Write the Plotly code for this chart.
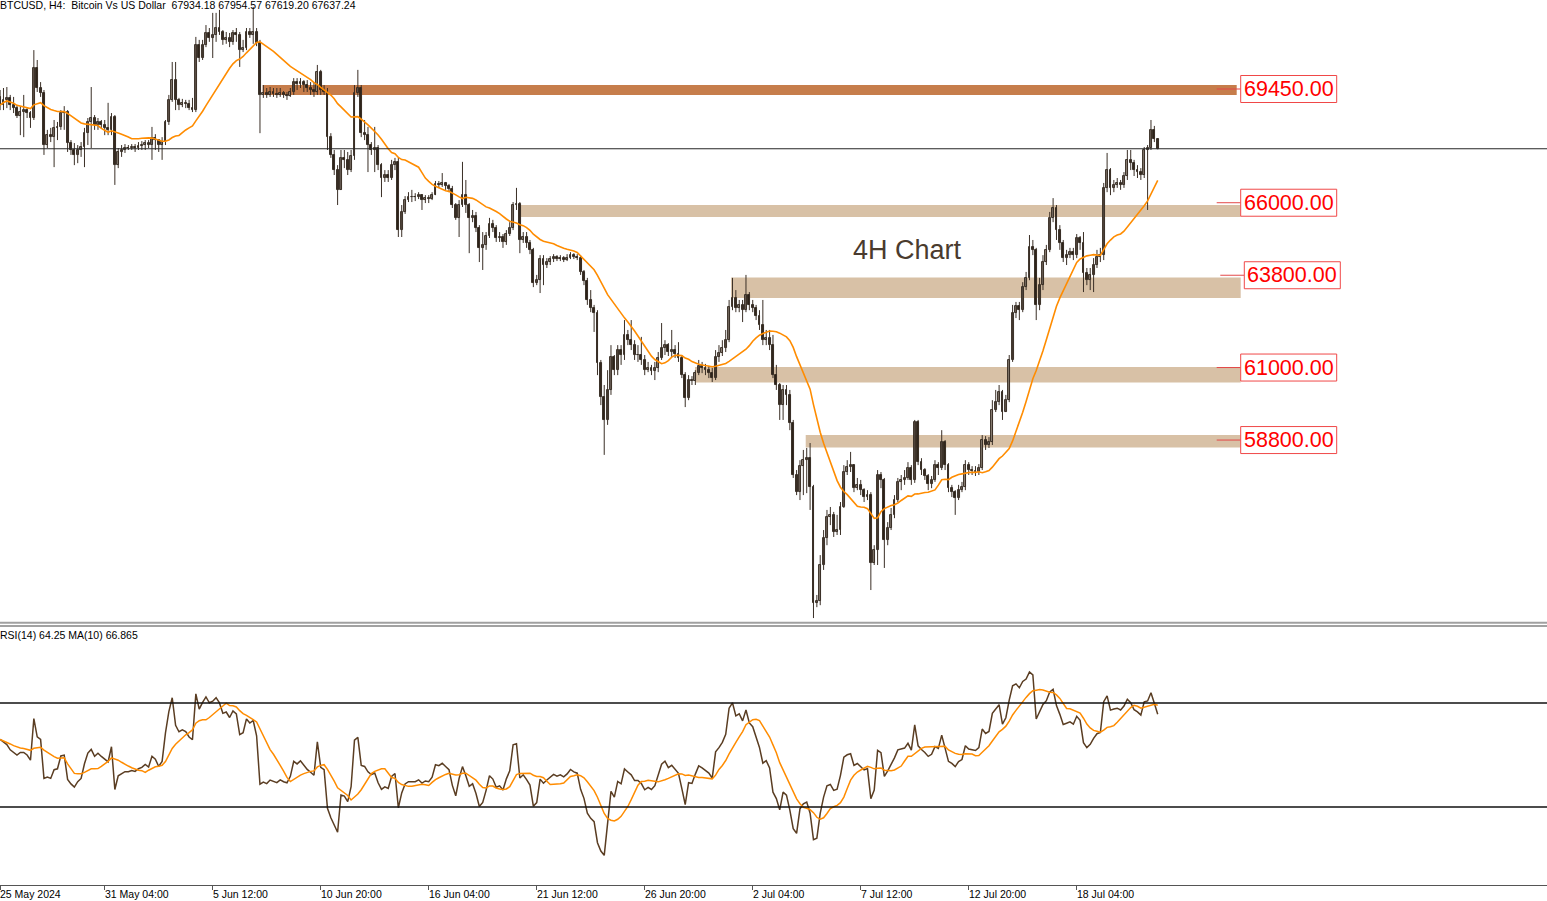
import numpy as np
import pandas as pd
import plotly.graph_objects as go

# ---------------- data (BTCUSD H4) ----------------
first_open = 69210
last_open = 67934.18

close = [
68960,69120,69180,68960,68870,68630,68750,68810,68720,68570,
70090,69480,69330,67750,68050,67990,68270,68300,68720,68750,
67810,67600,67450,67600,67690,68110,68450,68570,68360,68450,
68360,68270,68210,68600,67140,67540,67600,67660,67660,67690,
67660,67720,67750,67810,67750,67960,67900,67750,67840,68450,
69120,69720,69120,68960,69030,68990,68870,68810,70790,70390,
70790,71150,71000,71090,71300,71180,70940,71000,70880,71150,
71090,70630,70690,71180,71090,71180,70850,69270,69330,69270,
69360,69300,69270,69330,69270,69240,69360,69660,69600,69660,
69570,69480,69420,69360,69970,69420,69360,67990,67450,66990,
66390,67360,67300,66990,67420,69330,69480,68110,68050,67750,
67600,67660,67140,66750,66840,66750,67140,67240,65170,65720,
66080,66170,66170,66170,66230,66080,66140,66110,66230,66570,
66540,66600,66510,66420,65930,65540,65930,66230,65930,65540,
65600,65230,64630,64720,64990,65350,65230,64930,64960,64810,
65050,65230,65930,65960,64870,64960,64780,64570,63560,63650,
64290,64110,64200,64290,64350,64290,64320,64260,64320,64410,
64350,64320,63900,63620,63050,62810,62650,61140,60110,59410,
60320,61320,60920,61530,61380,61990,61830,61680,61380,61380,
61230,60920,60990,60890,60990,61290,61590,61680,61470,61530,
61410,61290,60770,60080,60620,60590,60830,61050,60990,60920,
60830,60680,61320,61440,61590,61830,62840,63110,62810,62900,
62740,63200,62900,62810,62560,62290,61830,61900,61680,60770,
60470,59860,60320,60170,59320,57740,57220,58010,58190,58250,
57370,53860,53920,55010,55830,56460,56530,56010,56070,56770,
57830,57980,58040,57340,57440,57280,57070,57130,55070,55460,
57740,57590,55770,56130,56530,56980,57530,57590,57650,57950,
57590,59350,58130,57890,57710,57470,57590,58040,57950,58740,
58040,57340,57220,57040,57280,57370,58040,57890,57860,57830,
57950,58800,58650,58740,59710,59950,60260,59650,60010,61230,
62650,62870,62740,63440,63720,64660,64570,62900,63500,64200,
64570,65540,65840,65170,64780,64320,64410,64500,64410,64930,
64780,63870,63650,63810,64110,64350,64410,66450,66990,66450,
66540,66600,66540,66810,67300,67200,66990,66930,66840,67600,
67660,68210,67934.18,67637.24,
]

high = [
69420,69480,69510,69270,69210,68960,68930,69270,68870,68780,
70630,70330,69660,69420,68210,68270,68510,68450,68810,68930,
68810,67900,67810,67750,67840,68270,68570,69510,68660,68570,
68510,68510,69030,68720,68660,67660,67750,67780,67750,67780,
67780,67840,67870,67900,67900,68300,68080,67930,67990,68510,
69270,70270,70270,69180,69150,69120,69120,69180,71030,70940,
70940,71390,71300,71760,71760,71850,71240,71180,71150,71240,
71300,71180,70940,71300,71300,71940,71300,70940,69570,69480,
69510,69480,69480,69480,69390,69360,69480,69780,69780,69780,
69720,69720,69660,69660,70180,70030,69570,69480,68110,67600,
67140,67600,67600,67540,67600,69570,70030,69570,68510,68300,
67840,68300,67750,67200,66990,66990,67300,67360,67360,65930,
66200,66320,66390,66290,66320,66260,66230,66230,66320,66660,
66660,66900,66630,66570,66510,65990,66080,67240,66690,65990,
65780,65720,65320,65110,65110,65540,65480,65320,65110,65050,
65170,65410,66020,66450,66020,65110,65110,64870,64630,63810,
64410,64410,64320,64380,64440,64410,64410,64380,64440,64500,
64470,64440,64410,63960,63720,63350,62900,62740,61230,60470,
60920,61680,61380,61680,61680,62440,62140,62440,61830,61680,
61930,61380,61170,61080,61170,61470,62350,61830,61740,62140,
61680,61770,61380,60860,60770,60740,60920,61230,61170,61110,
61050,60990,61530,61680,61830,62140,63050,63720,63350,63050,
63050,63810,63290,63050,62900,62740,63050,62140,62140,61990,
61080,60530,60470,60470,60320,59410,57890,58190,58500,58560,
58710,57440,54100,55310,56070,56680,56770,56620,56530,56920,
58040,58190,58440,58040,57650,57590,57340,57280,57220,55610,
57890,57830,57650,56310,56740,57130,57650,57740,57890,58130,
58040,59410,59410,58250,57950,57770,57710,58190,58130,59100,
58800,58100,57440,57280,57440,57530,58190,58130,58010,58010,
58070,58950,58920,58890,60010,60320,60470,60320,60170,61380,
62900,62990,62990,63590,63900,65020,64870,64630,63720,64410,
64720,65720,66140,65930,65320,64870,64570,64630,64630,65050,
64990,65110,64020,64020,64320,64570,64630,66600,67510,67050,
66690,66750,66690,66930,67600,67600,67300,67140,67050,67690,
67750,68510,68330,67954.57,
]

low = [
68810,68810,68870,68810,68720,68570,68050,67990,68570,68270,
68510,69360,69210,67450,67660,67840,67080,67900,68210,68210,
67540,67450,67140,67200,67390,67080,67750,67660,68210,68210,
68270,68050,68050,68050,66540,67050,67390,67510,67600,67600,
67540,67600,67600,67600,67660,67300,67600,67540,67300,67750,
68360,69060,68810,68810,68900,68870,68810,68750,68750,70270,
70330,70720,70880,70390,70880,71090,70790,70820,70720,70790,
70880,70120,70570,70630,71000,70820,70750,68110,69180,69180,
69210,69210,69180,69210,69180,69120,69210,69270,69420,69480,
69360,69360,69270,69210,69270,69270,69270,67600,67360,66840,
65930,66480,67050,66840,66930,67300,69210,67990,67900,66930,
67450,66930,66990,66170,66630,66630,66690,66990,64960,64960,
65660,66020,66020,66050,66110,65780,65990,65990,66080,66230,
66450,66480,66390,66320,65840,65480,64960,65870,65690,64470,
65410,65110,64200,63960,64570,64930,65110,64810,64810,64630,
64720,64990,65170,65780,64470,64780,64630,64440,63440,63500,
63260,63500,64020,64110,64200,64230,64230,64200,64230,64290,
64290,64260,63810,63500,62900,62680,62080,60770,59860,58350,
59260,60170,60770,60770,61080,61230,61680,61530,61230,61170,
61080,60770,60860,60770,60620,60860,61230,61380,61350,61320,
61290,61170,60680,59800,60010,60470,60470,60770,60830,60770,
60680,60560,60620,61170,61350,61470,61770,62740,62680,62680,
62380,62680,62740,62680,62440,62140,61680,61680,61530,60680,
60320,59410,59410,59860,59100,57650,57130,56980,57130,57190,
56680,53400,53730,53790,54860,55610,56220,55860,55920,55920,
56740,57740,57830,57220,57280,57130,56920,56980,54250,55010,
55010,57340,54920,55610,56070,56430,56920,57280,57440,57590,
57440,57500,58040,57740,57590,57280,57340,57530,57740,57890,
57890,57220,57070,56530,56980,57220,57280,57740,57740,57710,
57740,57890,58500,58560,58650,59650,59860,59410,59710,59950,
61170,62500,62440,62680,63350,63650,64410,62440,62740,63350,
64110,64500,65410,64870,64570,64200,64110,64320,64260,64320,
64570,63290,63500,63350,63290,64020,64200,64260,66320,66230,
66320,66450,66390,66450,66690,66990,66810,66750,66690,66750,
65780,67600,67840,67619.20,
]

# RSI values of the first bars (before a 14-bar history exists)
rsi_head = [56, 55, 54, 52, 51, 50, 51, 51, 50, 48, 64, 57, 56, 41]

tick_bars = [0, 31, 63, 95, 127, 159, 191, 223, 255, 287, 319]
tick_text = ["25 May 2024", "31 May 04:00", "5 Jun 12:00", "10 Jun 20:00",
             "16 Jun 04:00", "21 Jun 12:00", "26 Jun 20:00", "2 Jul 04:00",
             "7 Jul 12:00", "12 Jul 20:00", "18 Jul 04:00"]

levels = [69450, 66000, 63800, 61000, 58800]
level_labels = ["69450.00", "66000.00", "63800.00", "61000.00", "58800.00"]
zone_low = [69270, 65570, 63110, 60545, 58575]
zone_high = [69570, 65930, 63730, 61015, 58950]
zone_start_bar = [77.8, 154.0, 216.6, 205.9, 238.7]

current_price = 67637.24

# ---------------- geometry ----------------
W, H = 1547, 901
BAR_PX = 3.375
X0_PX = 0.1


def kx(px):
    return (px - X0_PX) / BAR_PX


P_TOP, P_BOT, P_PX = 72150, 53250, 623
PRICE_PER_PX = (P_TOP - P_BOT) / P_PX

n = len(close)
idx = np.arange(n)
c = np.array(close, float)
o = np.concatenate([[first_open], c[:-1]])
o[-1] = last_open
h = np.maximum(np.array(high, float), np.maximum(o, c))
l = np.minimum(np.array(low, float), np.minimum(o, c))

# indicators
ma20 = pd.Series(c).rolling(20, min_periods=1).mean().values
d = np.diff(c)
g = np.where(d > 0, d, 0.0)
ls = np.where(d < 0, -d, 0.0)
rsi = np.full(n, np.nan)
ag, al = g[:14].mean(), ls[:14].mean()
rsi[14] = 100 - 100 / (1 + ag / al)
for i in range(15, n):
    ag = (ag * 13 + g[i - 1]) / 14
    al = (al * 13 + ls[i - 1]) / 14
    rsi[i] = 100 - 100 / (1 + ag / al)
rsi[:14] = rsi_head
rsi_ma = pd.Series(rsi).rolling(10, min_periods=1).mean().values

fig = go.Figure()

# wicks
wx, wy = [], []
for i in range(n):
    wx += [i, i, None]
    wy += [l[i], h[i], None]
fig.add_trace(go.Scatter(x=wx, y=wy, mode="lines", line=dict(color="#3a2f26", width=1),
                         hoverinfo="skip", xaxis="x", yaxis="y"))

bull = c >= o
body_base = np.minimum(o, c)
body_h = np.maximum(np.abs(c - o), 12)
fig.add_trace(go.Bar(x=idx[bull], y=body_h[bull], base=body_base[bull], width=0.58,
                     marker=dict(color="#9a8f84", line=dict(color="#2b2118", width=0.9)),
                     xaxis="x", yaxis="y"))
fig.add_trace(go.Bar(x=idx[~bull], y=body_h[~bull], base=body_base[~bull], width=0.58,
                     marker=dict(color="#2b2118", line=dict(color="#2b2118", width=0.9)),
                     xaxis="x", yaxis="y"))

fig.add_trace(go.Scatter(x=idx, y=ma20, mode="lines", line=dict(color="#FF8C00", width=1.6),
                         xaxis="x", yaxis="y"))

# RSI panel
fig.add_trace(go.Scatter(x=idx, y=rsi, mode="lines", line=dict(color="#5a3d22", width=1.5),
                         xaxis="x2", yaxis="y2"))
fig.add_trace(go.Scatter(x=idx, y=rsi_ma, mode="lines", line=dict(color="#FF8C00", width=1.5),
                         xaxis="x2", yaxis="y2"))

shapes = []
# zones
for i, (lo_, hi_, xs) in enumerate(zip(zone_low, zone_high, zone_start_bar)):
    col = "#C67D4B" if i == 0 else "#D8C1A6"
    xe = kx(1236.7) if i == 0 else kx(1240.7)
    shapes.append(dict(type="rect", xref="x", yref="y", x0=xs, x1=xe, y0=lo_, y1=hi_,
                       fillcolor=col, line=dict(width=0), layer="below"))

# current price line
shapes.append(dict(type="line", xref="paper", yref="y", x0=0, x1=1, y0=current_price,
                   y1=current_price, line=dict(color="#262626", width=1)))

annotations = []
box_half = 13.5 * PRICE_PER_PX
for i, (lv, txt) in enumerate(zip(levels, level_labels)):
    shift = 3.6 if i == 2 else 0.0
    bx0, bx1 = kx(1240.7 + shift), kx(1336.7 + shift)
    shapes.append(dict(type="line", xref="x", yref="y", x0=kx(1216.7 + shift), x1=bx0,
                       y0=lv, y1=lv, line=dict(color="#E34848", width=1)))
    shapes.append(dict(type="rect", xref="x", yref="y", x0=bx0, x1=bx1,
                       y0=lv - box_half, y1=lv + box_half, fillcolor="white",
                       line=dict(color="#F04848", width=1)))
    annotations.append(dict(x=(bx0 + bx1) / 2, y=lv, xref="x", yref="y", text=txt,
                            showarrow=False, xanchor="center", yanchor="middle",
                            font=dict(family="Liberation Sans", size=21.5, color="#FF0000")))

# separator between panels
shapes.append(dict(type="line", xref="paper", yref="paper", x0=0, x1=1,
                   y0=1 - 622.8 / H, y1=1 - 622.8 / H, line=dict(color="#a0a0a0", width=2)))
shapes.append(dict(type="line", xref="paper", yref="paper", x0=0, x1=1,
                   y0=1 - 626 / H, y1=1 - 626 / H, line=dict(color="#444444", width=1)))

# RSI levels
for lv in (70, 30):
    shapes.append(dict(type="line", xref="paper", yref="y2", x0=0, x1=1, y0=lv, y1=lv,
                       line=dict(color="#111111", width=1.5)))

small = dict(family="Liberation Sans", size=10.5, color="#000000")
nb = "\u00a0"
annotations.append(dict(x=0, y=1 - 5.5 / H, xref="paper", yref="paper", xanchor="left",
                        yanchor="middle", xshift=-2, showarrow=False, font=small,
                        text=f"BTCUSD,{nb}H4:{nb}{nb}Bitcoin{nb}Vs{nb}US{nb}Dollar{nb}{nb}67934.18{nb}67954.57{nb}67619.20{nb}67637.24"))
annotations.append(dict(x=0, y=1 - 635 / H, xref="paper", yref="paper", xanchor="left",
                        yanchor="middle", xshift=-2, showarrow=False, font=small,
                        text="RSI(14) 64.25 MA(10) 66.865"))
annotations.append(dict(x=kx(907), y=P_TOP - 250 * PRICE_PER_PX, xref="x", yref="y",
                        text="4H Chart", showarrow=False, xanchor="center", yanchor="middle",
                        font=dict(family="Liberation Sans", size=27, color="#4a3b2e")))
for tb, tt in zip(tick_bars, tick_text):
    annotations.append(dict(x=tb, y=1 - 894 / H, xref="x2", yref="paper", xanchor="left",
                            yanchor="middle", xshift=-2, showarrow=False, font=small, text=tt))

xr = [kx(0), kx(W)]
fig.update_layout(
    width=W, height=H, margin=dict(l=0, r=0, t=0, b=0, pad=0),
    paper_bgcolor="white", plot_bgcolor="white", showlegend=False,
    barmode="overlay", bargap=0,
    xaxis=dict(domain=[0, 1], range=xr, anchor="y", showticklabels=False, showgrid=False,
               zeroline=False, showline=False, ticks=""),
    yaxis=dict(domain=[1 - P_PX / H, 1], range=[P_BOT, P_TOP], visible=False),
    xaxis2=dict(domain=[0, 1], range=xr, anchor="y2", matches="x", showgrid=False,
                zeroline=False, showline=True, linecolor="#555555", linewidth=1,
                ticks="outside", ticklen=4, tickcolor="#555555", tickvals=tick_bars,
                showticklabels=False),
    yaxis2=dict(domain=[1 - 885 / H, 1 - 625 / H], range=[0, 100], visible=False),
    shapes=shapes, annotations=annotations,
)

fig.write_html("out.html", config={"displayModeBar": False},
               post_script="document.body.style.margin='0';document.body.style.overflow='hidden';")
